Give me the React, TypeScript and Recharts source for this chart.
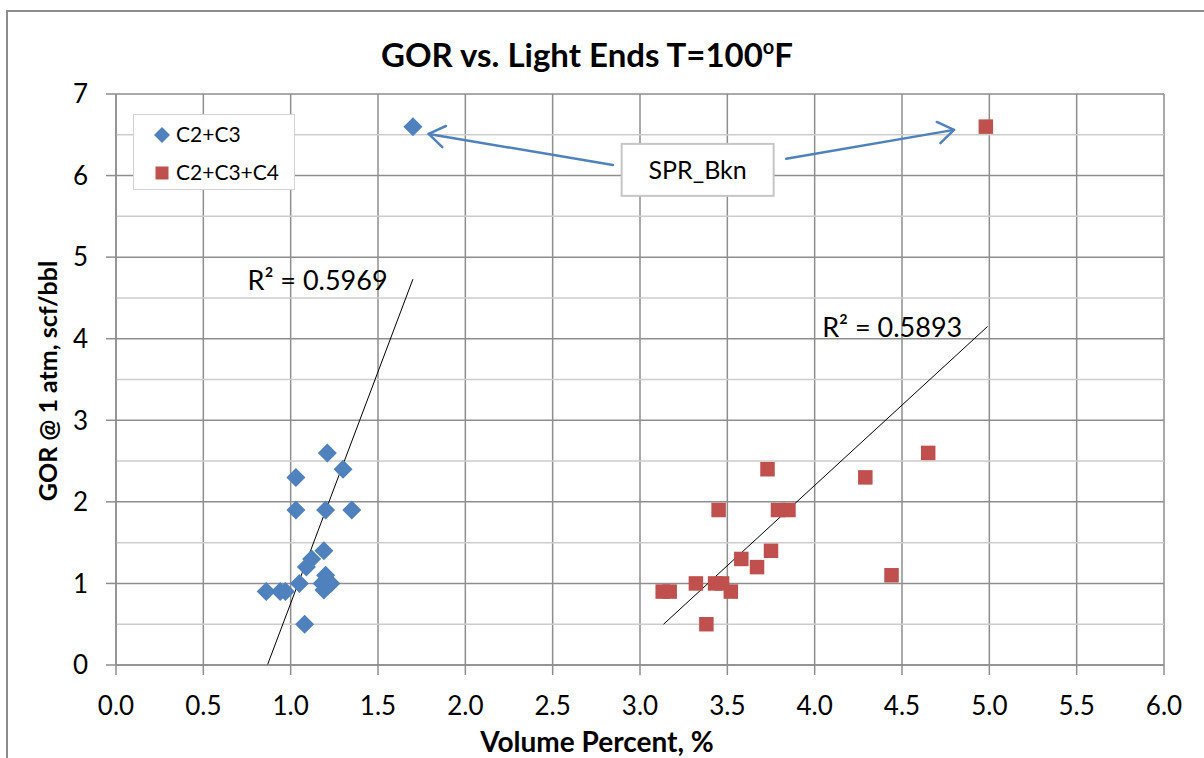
import React from 'react';
import {
  ScatterChart,
  Scatter,
  XAxis,
  YAxis,
  CartesianGrid,
  ReferenceLine,
  ReferenceDot,
  Legend,
} from 'recharts';

// ---------- data ----------
const seriesNames = ['C2+C3', 'C2+C3+C4'];
const seriesColors = ['#4F81BD', '#C0504D'];

const c2c3Points = [
  { x: 1.7, y: 6.6 },
  { x: 1.21, y: 2.6 },
  { x: 1.3, y: 2.4 },
  { x: 1.03, y: 2.3 },
  { x: 1.03, y: 1.9 },
  { x: 1.2, y: 1.9 },
  { x: 1.35, y: 1.9 },
  { x: 1.19, y: 1.4 },
  { x: 1.12, y: 1.3 },
  { x: 1.09, y: 1.2 },
  { x: 1.2, y: 1.1 },
  { x: 1.23, y: 1.0 },
  { x: 1.18, y: 1.0 },
  { x: 1.05, y: 1.0 },
  { x: 1.19, y: 0.92 },
  { x: 0.86, y: 0.9 },
  { x: 0.94, y: 0.9 },
  { x: 0.97, y: 0.9 },
  { x: 1.08, y: 0.5 },
];

const c2c3c4Points = [
  { x: 4.98, y: 6.6 },
  { x: 4.65, y: 2.6 },
  { x: 3.73, y: 2.4 },
  { x: 4.29, y: 2.3 },
  { x: 3.45, y: 1.9 },
  { x: 3.79, y: 1.9 },
  { x: 3.85, y: 1.9 },
  { x: 3.75, y: 1.4 },
  { x: 3.58, y: 1.3 },
  { x: 3.67, y: 1.2 },
  { x: 4.44, y: 1.1 },
  { x: 3.32, y: 1.0 },
  { x: 3.43, y: 1.0 },
  { x: 3.47, y: 1.0 },
  { x: 3.13, y: 0.9 },
  { x: 3.17, y: 0.9 },
  { x: 3.52, y: 0.9 },
  { x: 3.38, y: 0.5 },
];

// linear trendline endpoints
const c2c3Trend = [
  { x: 0.867, y: 0 },
  { x: 1.7, y: 4.73 },
];
const c2c3c4Trend = [
  { x: 3.135, y: 0.5 },
  { x: 4.99, y: 4.15 },
];
const rSquaredLabels = [
  { x: 0.753, y: 4.6, text: 'R² = 0.5969' },
  { x: 4.043, y: 4.015, text: 'R² = 0.5893' },
];

// annotation
const annotationText = 'SPR_Bkn';
const annotationCenter = { x: 3.33, y: 6.07 };
const arrowLeft = [
  { x: 2.845, y: 6.13 },
  { x: 1.79, y: 6.51 },
];
const arrowRight = [
  { x: 3.837, y: 6.206 },
  { x: 4.798, y: 6.56 },
];

// axes
const xTicks = [0, 0.5, 1, 1.5, 2, 2.5, 3, 3.5, 4, 4.5, 5, 5.5, 6];
const yTicks = [0, 1, 2, 3, 4, 5, 6, 7];
const yMinorGrid = [0.5, 1.5, 2.5, 3.5, 4.5, 5.5, 6.5];

const titleText = 'GOR vs. Light Ends T=100';
const xTitle = 'Volume Percent, %';
const yTitle = 'GOR @ 1 atm, scf/bbl';

// ---------- styling ----------
const FONT = 'Lato, "Open Sans", sans-serif';
const GRID_DARK = '#8e8e8e';
const GRID_LIGHT = '#cdcdcd';

const Diamond = (props: any) => {
  const { cx, cy } = props;
  if (cx == null || cy == null) return <g />;
  const h = 9.5;
  return (
    <polygon
      points={`${cx},${cy - h} ${cx + h},${cy} ${cx},${cy + h} ${cx - h},${cy}`}
      fill={seriesColors[0]}
    />
  );
};

const Square = (props: any) => {
  const { cx, cy } = props;
  if (cx == null || cy == null) return <g />;
  const s = 14.5;
  return <rect x={cx - s / 2} y={cy - s / 2} width={s} height={s} fill={seriesColors[1]} />;
};

const NoShape = () => <g />;

const arrowLine = (props: any) => {
  const pts = props.points;
  if (!pts || pts.length < 2) return <g />;
  const a = pts[0];
  const b = pts[pts.length - 1];
  const ang = Math.atan2(a.y - b.y, a.x - b.x);
  const L = 19;
  const spread = 0.6;
  const p1x = b.x + L * Math.cos(ang + spread);
  const p1y = b.y + L * Math.sin(ang + spread);
  const p2x = b.x + L * Math.cos(ang - spread);
  const p2y = b.y + L * Math.sin(ang - spread);
  return (
    <g stroke="#4F81BD" strokeWidth={2.5} fill="none" strokeLinecap="round" strokeLinejoin="round">
      <line x1={a.x} y1={a.y} x2={b.x} y2={b.y} />
      <polyline points={`${p1x},${p1y} ${b.x},${b.y} ${p2x},${p2y}`} />
    </g>
  );
};

const AnnotationBox = (props: any) => {
  const { cx, cy } = props;
  if (cx == null || cy == null) return <g />;
  const w = 152;
  const h = 52;
  return (
    <g>
      <rect x={cx - w / 2} y={cy - h / 2} width={w} height={h} fill="#fff" stroke="#c6c6c6" strokeWidth={2} />
      <text x={cx} y={cy + 9} textAnchor="middle" fontFamily={FONT} fontSize={25} fill="#000">
        {annotationText}
      </text>
    </g>
  );
};

const makeRLabel = (text: string) => (props: any) => {
  const { cx, cy } = props;
  if (cx == null || cy == null) return <g />;
  return (
    <text x={cx} y={cy} textAnchor="start" fontFamily={FONT} fontSize={27} fill="#000">
      {text}
    </text>
  );
};

const XTitle = () => (
  <text x={597} y={752} textAnchor="middle" fontFamily={FONT} fontSize={28} fontWeight={700} fill="#000">
    {xTitle}
  </text>
);

const YTitle = () => (
  <text
    x={0}
    y={0}
    transform="translate(57,381) rotate(-90)"
    textAnchor="middle"
    fontFamily={FONT}
    fontSize={25}
    fontWeight={700}
    fill="#000"
  >
    {yTitle}
  </text>
);

const LegendBox = () => (
  <div
    style={{
      width: 162,
      height: 76,
      boxSizing: 'border-box',
      border: '1px solid #d4d4d4',
      background: '#fff',
      position: 'relative',
      fontFamily: FONT,
      fontSize: 21,
      color: '#000',
    }}
  >
    <svg width={162} height={76} style={{ position: 'absolute', left: 0, top: 0 }}>
      <polygon points="28,12 36,20 28,28 20,20" fill={seriesColors[0]} />
      <rect x={21.5} y={51.5} width={13} height={13} fill={seriesColors[1]} />
      <text x={42} y={27} fontFamily={FONT} fontSize={21} fill="#000">
        {seriesNames[0]}
      </text>
      <text x={42} y={65} fontFamily={FONT} fontSize={21} fill="#000">
        {seriesNames[1]}
      </text>
    </svg>
  </div>
);

export default function App() {
  return (
    <div
      style={{
        position: 'absolute',
        left: 0,
        top: 0,
        width: 1204,
        height: 758,
        overflow: 'hidden',
        background: '#fff',
      }}
    >
      <div
        style={{
          position: 'absolute',
          left: 6,
          top: 10,
          width: 1198,
          height: 748,
          boxSizing: 'border-box',
          borderLeft: '2px solid #8c8c8c',
          borderTop: '2px solid #8c8c8c',
        }}
      />
      <svg width={1204} height={100} style={{ position: 'absolute', left: 0, top: 0 }}>
        <text x={587} y={67} textAnchor="middle" fontFamily={FONT} fontSize={33} fontWeight={700} fill="#000">
          {titleText}
          <tspan fontSize={20} dy={-13}>o</tspan>
          <tspan dy={13}>F</tspan>
        </text>
      </svg>
      <div style={{ position: 'absolute', left: 0, top: 0 }}>
        <ScatterChart width={1204} height={758} margin={{ top: 94, right: 40, bottom: 0, left: 0 }}>
          <CartesianGrid stroke={GRID_DARK} strokeWidth={1.5} />
          {yMinorGrid.map((v) => (
            <ReferenceLine key={'mg' + v} y={v} stroke={GRID_LIGHT} strokeWidth={1.5} ifOverflow="extendDomain" />
          ))}
          <XAxis
            type="number"
            dataKey="x"
            domain={[0, 6]}
            ticks={xTicks}
            tickFormatter={(v: number) => v.toFixed(1)}
            height={93}
            stroke={GRID_DARK}
            strokeWidth={1.5}
            tickSize={10}
            tickMargin={22}
            tick={{ fill: '#000', fontSize: 26, fontFamily: FONT }}
            interval={0}
            allowDataOverflow
            label={<XTitle />}
          />
          <YAxis
            type="number"
            dataKey="y"
            domain={[0, 7]}
            ticks={yTicks}
            width={116}
            stroke={GRID_DARK}
            strokeWidth={1.5}
            tickSize={10}
            tickMargin={18}
            tick={{ fill: '#000', fontSize: 26, fontFamily: FONT }}
            interval={0}
            allowDataOverflow
            label={<YTitle />}
          />
          <Scatter
            name={seriesNames[0]}
            data={c2c3Points}
            fill={seriesColors[0]}
            shape={<Diamond />}
            isAnimationActive={false}
          />
          <Scatter
            name={seriesNames[1]}
            data={c2c3c4Points}
            fill={seriesColors[1]}
            shape={<Square />}
            isAnimationActive={false}
          />
          <ReferenceLine segment={c2c3Trend} stroke="#000" strokeWidth={1} />
          <ReferenceLine segment={c2c3c4Trend} stroke="#000" strokeWidth={1} />
          <Scatter
            name="arrow-left"
            data={arrowLeft}
            line={arrowLine}
            shape={NoShape}
            legendType="none"
            isAnimationActive={false}
          />
          <Scatter
            name="arrow-right"
            data={arrowRight}
            line={arrowLine}
            shape={NoShape}
            legendType="none"
            isAnimationActive={false}
          />
          <ReferenceDot x={annotationCenter.x} y={annotationCenter.y} r={0} shape={AnnotationBox} />
          {rSquaredLabels.map((l) => (
            <ReferenceDot key={l.text} x={l.x} y={l.y} r={0} shape={makeRLabel(l.text)} />
          ))}
          <Legend
            layout="vertical"
            align="center"
            verticalAlign="middle"
            wrapperStyle={{ left: 133, top: 114, width: 162, height: 76 }}
            content={() => <LegendBox />}
          />
        </ScatterChart>
      </div>
    </div>
  );
}
